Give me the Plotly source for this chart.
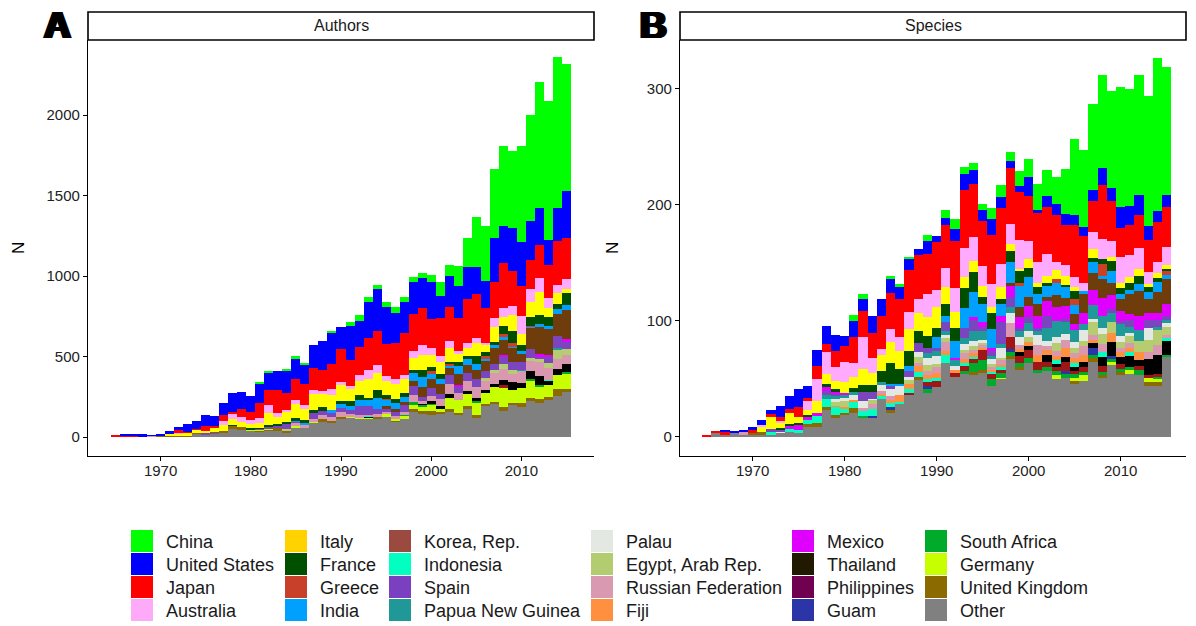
import plotly.graph_objects as go

years = list(range(1965, 2016))

categories = ["China", "United States", "Japan", "Australia", "Italy", "France", "Greece", "India",
              "Korea, Rep.", "Indonesia", "Spain", "Papua New Guinea", "Palau", "Egypt, Arab Rep.",
              "Russian Federation", "Fiji", "Mexico", "Thailand", "Philippines", "Guam",
              "South Africa", "Germany", "United Kingdom", "Other"]

# colours as drawn in the bars
bar_colors = ["#00ff00", "#0000ff", "#ff0000", "#ffaaff", "#ffff00", "#004d00", "#cc4125", "#00a0ff",
              "#6f3c0c", "#e000ff", "#7b45c0", "#209999", "#e3e8e3", "#b5cc70",
              "#da98b0", "#ff9040", "#00ffc0", "#000000", "#a01515", "#2c35a8",
              "#00aa2a", "#c8ff00", "#8b6a00", "#808080"]
# colours as drawn in the legend keys
legend_colors = ["#00ff00", "#0000ff", "#ff0000", "#ffaaf8", "#ffd200", "#005000", "#c8402a", "#00a0ff",
                 "#9b4a40", "#00ffc0", "#7a40c0", "#209898", "#e3e8e3", "#b4cc70",
                 "#d999b0", "#ff9040", "#e000ff", "#221a00", "#700050", "#2c35a8",
                 "#00aa2a", "#c8ff00", "#8b6a00", "#808080"]

# ---------------- Authors (panel A) ----------------
a_china = [0]*10 + [0,0,0,0,0,0,5,10,0,8] + [12,6,0,0,12,0,25,37,31,25] + [31,37,31,31,31,43,87,68,124,180] + [311,342,428,497,478,596,658,782,863,938] + [789]
a_us = [0,8,8,16,4,12,19,17,48,50] + [68,64,77,118,106,99,122,114,118,141] + [130,124,143,180,193,137,211,161,224,261] + [230,186,193,199,186,230,137,193,199,199] + [168,168,273,230,267,273,242,230,155,205] + [292]
a_japan = [12,8,8,0,0,0,0,19,6,4] + [29,6,35,12,52,50,93,93,141,106] + [130,130,137,130,155,205,161,174,199,211] + [199,224,261,230,230,180,236,211,205,273] + [273,217,224,280,217,186,180,205,205,273] + [255]
a_australia = [0,0,0,0,0,0,0,4,0,4] + [0,0,25,33,27,25,31,48,25,14] + [25,25,25,12,37,19,19,37,56,50] + [25,31,25,43,62,43,37,43,19,31] + [31,6,56,56,56,112,81,87,62,50] + [62]
a_italy = [0,0,0,0,0,2,10,12,19,19] + [17,29,35,37,35,25,35,75,46,60] + [87,68,99,87,93,99,75,87,118,106] + [87,93,87,75,93,75,75,87,50,50] + [81,50,93,56,99,68,93,143,56,68] + [25]
a_france = [0]*10 + [0,0,0,4,0,4,3,10,6,12] + [12,19,12,25,0,12,31,31,12,50] + [25,25,25,19,43,25,31,6,25,19] + [50,25,12,50,75,37,56,56,56,31] + [75]
a_greece = [0]*30 + [3,0,0,0,0,12,0,12,0,0] + [0,12,0,19,25,0,6,0,0,0] + [0]
a_india = [0]*10 + [0,0,0,0,0,4,0,0,0,0] + [6,12,0,0,19,31,25,37,37,68] + [43,37,31,50,62,37,31,12,50,37] + [37,19,25,12,6,19,6,19,12,31] + [31]
a_korea = [0]*30 + [19,12,19,31,62,56,62,50,68,50] + [56,62,100,99,87,50,130,168,168,137] + [180]
a_indonesia = [0]*30 + [0,0,0,0,0,0,0,0,6,0] + [0,0,0,6,0,0,0,12,12,0] + [12]
a_spain = [0]*10 + [4,4,0,0,0,0,4,8,21,31] + [6,0,43,25,25,25,25,56,56,31] + [19,31,43,56,25,50,31,56,43,50] + [50,43,37,50,50,50,56,19,37,75] + [50]
a_png = [0]*40 + [0,0,0,0,0,4,0,0,0,5] + [0]
a_palau = [0]*51
a_egypt = [0]*10 + [0,0,0,0,0,0,0,0,0,8] + [0]*10 + [0]*10 + [0,12,18,31,25,0,19,12,31,62] + [37]
a_russia = [0,0,0,0,4,0,0,0,0,0] + [0]*10 + [25,19,19,25,25,31,12,12,6,19] + [6,12,19,43,12,31,43,62,43,62] + [68,62,68,68,50,75,62,93,75,62] + [56]
a_fiji = [0]*51
a_mexico = [0]*20 + [0,0,0,0,0,0,0,0,2,0] + [0]*10 + [0,0,0,0,0,0,0,0,6,0] + [0]
a_thailand = [0]*20 + [0,0,0,0,0,0,0,0,6,0] + [0,0,0,0,6,12,12,25,0,19] + [19,19,19,31,50,31,50,56,25,37] + [50]
a_philippines = [0]*40 + [0,0,0,12,0,0,0,0,0,0] + [0]
a_guam = [0]*51
a_safrica = [0]*30 + [0,0,6,12,12,12,0,0,0,0] + [6,0,0,0,0,0,12,12,0,0] + [6]
a_germany = [0]*10 + [0,0,0,0,0,6,6,6,0,0] + [6,0,6,0,0,0,6,6,12,0] + [25,12,19,31,31,37,25,68,81,75] + [81,68,93,124,81,93,106,75,75,87] + [99]
a_uk = [0,0,0,0,0,3,4,4,4,6] + [4,6,8,21,12,0,4,6,10,12] + [0,0,0,12,12,12,0,0,0,12] + [0,6,0,12,12,25,12,12,12,12] + [12,12,12,25,12,25,19,25,12,43] + [19]
a_other = [0,4,3,0,4,4,6,6,4,19] + [14,21,31,48,48,39,37,43,43,31] + [62,56,87,99,87,112,124,118,112,112] + [124,99,112,161,149,137,143,161,137,180] + [124,193,205,161,199,186,224,211,236,255] + [279]

# ---------------- Species (panel B) ----------------
s_china = [0]*10 + [0,0,0,0,0,0,5,4,0,0] + [3,3,1,0,5,0,7,9,6,6] + [5,9,10,8,13,16,22,22,23,39] + [66,66,74,80,83,104,101,103,112,132] + [110]
s_us = [0,0,2,2,2,3,5,3,10,11] + [15,10,14,16,14,9,14,10,14,15] + [12,10,10,5,11,5,6,10,14,12] + [10,14,10,6,5,16,3,10,10,9] + [8,8,10,15,12,18,16,18,12,10] + [11]
s_japan = [2,2,2,0,0,3,0,3,3,3] + [9,3,11,7,14,13,22,23,22,28] + [31,33,36,38,35,41,37,41,50,46] + [39,42,48,48,41,39,42,40,40,35] + [45,40,26,46,34,25,26,28,28,34] + [34]
s_australia = [0,0,0,0,0,0,1,0,2,0] + [0,8,19,19,12,18,12,27,13,5] + [11,12,15,12,20,15,17,20,25,20] + [17,20,20,18,25,16,18,19,7,9] + [9,7,15,18,14,22,19,18,10,10] + [16]
s_italy = [0,0,0,0,0,0,5,10,4,10] + [5,4,10,8,7,9,10,14,10,14] + [18,15,19,16,16,18,14,14,10,10] + [9,5,10,6,2,7,4,6,8,8] + [3,0,8,0,3,5,5,6,3,4] + [3]
s_france = [0,0,0,0,0,0,0,0,2,1] + [1,1,0,3,2,0,3,6,6,10] + [18,13,13,10,10,8,11,11,17,17] + [6,14,4,9,10,8,6,3,0,2] + [7,0,3,4,9,5,6,7,4,3] + [2]
s_greece = [0]*30 + [0,0,0,0,3,0,0,0,3,0] + [5,0,0,10,0,0,0,0,0,0] + [3]
s_india = [0]*20 + [2,2,4,0,0,9,5,15,17,22] + [16,16,11,18,18,17,8,9,11,9] + [8,3,10,3,10,4,4,6,6,9] + [4]
s_korea = [0]*30 + [0,0,0,3,9,8,11,4,10,7] + [9,16,14,16,11,10,17,22,12,18] + [21]
s_indonesia = [0,0,0,0,0,0,0,0,0,3] + [5,3,3,3,2,1,0,0,0,0] + [0,0,0,0,0,0,0,2,0,2] + [4,3,5,9,9,10,10,13,12,11] + [5,10,13,16,12,9,5,12,6,6] + [11]
s_spain = [0,0,0,0,0,0,0,3,1,0] + [0,0,0,4,2,0,0,8,6,0] + [3,0,5,8,5,3,8,0,9,10] + [4,4,19,9,3,5,3,10,0,3] + [0,0,0,0,3,3,6,0,7,6] + [3]
s_png = [0]*10 + [0,0,0,3,2,3,3,0,0,2] + [0,0,0,0,4,4,3,5,5,8] + [7,3,3,5,5,7,3,11,14,10] + [10,5,12,10,8,10,5,9,0,3] + [3]
s_palau = [0,0,0,0,0,0,0,0,2,0] + [0,0,0,0,3,3,4,6,1,5] + [6,8,3,4,6,7,3,3,5,5] + [3,4,9,9,7,5,9,5,5,5] + [5,9,3,5,0,5,3,0,10,0] + [3]
s_egypt = [0]*10 + [0,0,0,0,3,5,0,0,4,0] + [0,0,3,5,5,3,3,0,3,3] + [2,3,2,0,0,4,0,0,7,0] + [5,5,11,9,9,5,6,10,11,13] + [7]
s_russia = [0,0,0,0,2,0,0,0,0,0] + [0,0,0,0,0,0,0,3,4,3] + [3,0,0,3,4,5,8,0,5,3] + [2,2,4,12,3,0,8,3,4,7] + [4,7,4,7,0,4,4,0,6,8] + [3]
s_fiji = [0]*10 + [0,0,0,0,1,2,2,0,0,2] + [3,6,5,5,3,4,3,3,3,3] + [2,2,2,0,3,4,6,4,4,8] + [4,6,3,0,8,4,4,7,0,0] + [0]
s_mexico = [0,0,0,0,0,0,0,2,0,3] + [3,4,6,7,7,3,5,4,6,2] + [3,2,3,4,3,3,7,0,3,2] + [0,2,2,0,0,0,0,0,3,0] + [4,0,0,4,0,0,3,0,0,0] + [2]
s_thailand = [0]*30 + [0,0,0,0,3,3,0,6,3,4] + [3,5,4,8,12,6,10,5,14,17] + [12]
s_philippines = [0]*20 + [0,0,2,0,3,5,0,3,4,3] + [9,4,3,10,6,7,7,5,3,8] + [3,4,0,5,0,4,0,3,2,2] + [0]
s_guam = [0]*10 + [0,0,0,0,0,0,0,0,2,0] + [3,0,0,0,3,0,0,0,0,0] + [0,0,0,3,0,0,0,0,0,3] + [0,0,6,0,3,0,0,0,0,0] + [0]
s_safrica = [0]*10 + [0,0,0,0,0,0,0,2,0,0] + [0,0,0,0,3,0,0,0,3,8] + [8,6,4,3,4,4,3,3,4,3] + [3,3,3,3,2,3,2,5,0,2] + [2]
s_germany = [0]*30 + [0,0,1,0,0,0,0,0,3,0] + [3,5,0,0,3,0,4,0,4,3] + [0]
s_uk = [0,0,0,0,0,1,2,0,0,0] + [0,2,3,3,3,2,4,0,0,0] + [2,0,0,3,0,0,0,0,0,3] + [3,0,0,3,2,0,0,0,0,0] + [2,0,3,2,0,3,0,0,3,3] + [0]
s_other = [0,3,2,3,2,2,2,2,3,4] + [3,9,9,23,16,19,21,16,16,33] + [21,28,36,49,38,43,64,52,54,53] + [55,44,50,67,58,64,55,57,50,51] + [46,48,65,51,62,53,54,53,44,44] + [69]

authors = [a_china, a_us, a_japan, a_australia, a_italy, a_france, a_greece, a_india, a_korea,
           a_indonesia, a_spain, a_png, a_palau, a_egypt, a_russia, a_fiji, a_mexico, a_thailand,
           a_philippines, a_guam, a_safrica, a_germany, a_uk, a_other]
species = [s_china, s_us, s_japan, s_australia, s_italy, s_france, s_greece, s_india, s_korea,
           s_indonesia, s_spain, s_png, s_palau, s_egypt, s_russia, s_fiji, s_mexico, s_thailand,
           s_philippines, s_guam, s_safrica, s_germany, s_uk, s_other]

W, H = 1196, 626
def X(px):
    return px / W
def Y(py):
    return 1 - py / H

FONT = "Liberation Sans, Arial, Helvetica, sans-serif"

fig = go.Figure()
# bottom of the stack first (Other) ... top last (China)
for panel, data in (("1", authors), ("2", species)):
    for idx in reversed(range(len(categories))):
        fig.add_trace(go.Bar(
            x=years, y=data[idx], name=categories[idx],
            marker=dict(color=bar_colors[idx], line=dict(width=0)),
            xaxis="x" if panel == "1" else "x2",
            yaxis="y" if panel == "1" else "y2",
            showlegend=False, hoverinfo="x+y+name"))

axis_common = dict(showline=True, linecolor="black", linewidth=1.2, ticks="outside",
                   ticklen=4, tickwidth=1.1, tickcolor="black", showgrid=False, zeroline=False,
                   tickfont=dict(family=FONT, size=15, color="#222222"), fixedrange=True)

ydom = [Y(456), Y(40)]
fig.update_layout(
    width=W, height=H, margin=dict(l=0, r=0, t=0, b=0), autosize=False,
    paper_bgcolor="white", plot_bgcolor="white",
    barmode="stack", bargap=0,
    font=dict(family=FONT),
    xaxis=dict(domain=[X(88), X(594)], range=[1961.95, 2018.05], anchor="y",
               tickvals=[1970, 1980, 1990, 2000, 2010], ticklabelstandoff=-3, **axis_common),
    yaxis=dict(domain=ydom, range=[-118, 2466], anchor="x",
               tickvals=[0, 500, 1000, 1500, 2000], **axis_common),
    xaxis2=dict(domain=[X(680), X(1186)], range=[1962.1, 2017.1], anchor="y2",
                tickvals=[1970, 1980, 1990, 2000, 2010], ticklabelstandoff=-3, **axis_common),
    yaxis2=dict(domain=ydom, range=[-16.4, 342.2], anchor="x2",
                tickvals=[0, 100, 200, 300], **axis_common),
)

shapes = []
annotations = []

# strip headers
for (x0, x1, label) in ((88, 594, "Authors"), (680, 1186, "Species")):
    shapes.append(dict(type="rect", xref="paper", yref="paper", x0=X(x0), x1=X(x1),
                       y0=Y(40), y1=Y(12), line=dict(color="black", width=1.6),
                       fillcolor="white", layer="above"))
    annotations.append(dict(xref="paper", yref="paper", x=X((x0 + x1) / 2), y=Y(26),
                            text=label, showarrow=False, xanchor="center", yanchor="middle",
                            font=dict(family=FONT, size=16, color="#1a1a1a")))

# panel letters
for (xc, letter) in ((57, "A"), (653, "B")):
    annotations.append(dict(xref="paper", yref="paper", x=X(xc), y=Y(26), text="<b>%s</b>" % letter,
                            showarrow=False, xanchor="center", yanchor="middle",
                            font=dict(family=FONT, size=37, color="black",
                                      shadow="2px 0 0 black, -2px 0 0 black, 1px 0 0 black, -1px 0 0 black")))

# y axis titles
for xc in (18, 612):
    annotations.append(dict(xref="paper", yref="paper", x=X(xc), y=Y(248), text="N",
                            textangle=-90, showarrow=False, xanchor="center", yanchor="middle",
                            font=dict(family=FONT, size=17, color="black")))

# legend (6 columns x 4 rows)
col_swatch = [131, 285, 389, 591, 792, 925]
row_top = [530, 553, 576, 599]
for k, (lab, col) in enumerate(zip(categories, legend_colors)):
    c, r = divmod(k, 4)
    sx = col_swatch[c]
    sy = row_top[r]
    shapes.append(dict(type="rect", xref="paper", yref="paper", x0=X(sx), x1=X(sx + 22),
                       y0=Y(sy + 22), y1=Y(sy), line=dict(width=0), fillcolor=col))
    annotations.append(dict(xref="paper", yref="paper", x=X(sx + 33), y=Y(sy + 11.5), text=lab,
                            showarrow=False, xanchor="left", yanchor="middle",
                            font=dict(family=FONT, size=18, color="#1a1a1a")))

fig.update_layout(shapes=shapes, annotations=annotations)

fig.write_html("out.html")
